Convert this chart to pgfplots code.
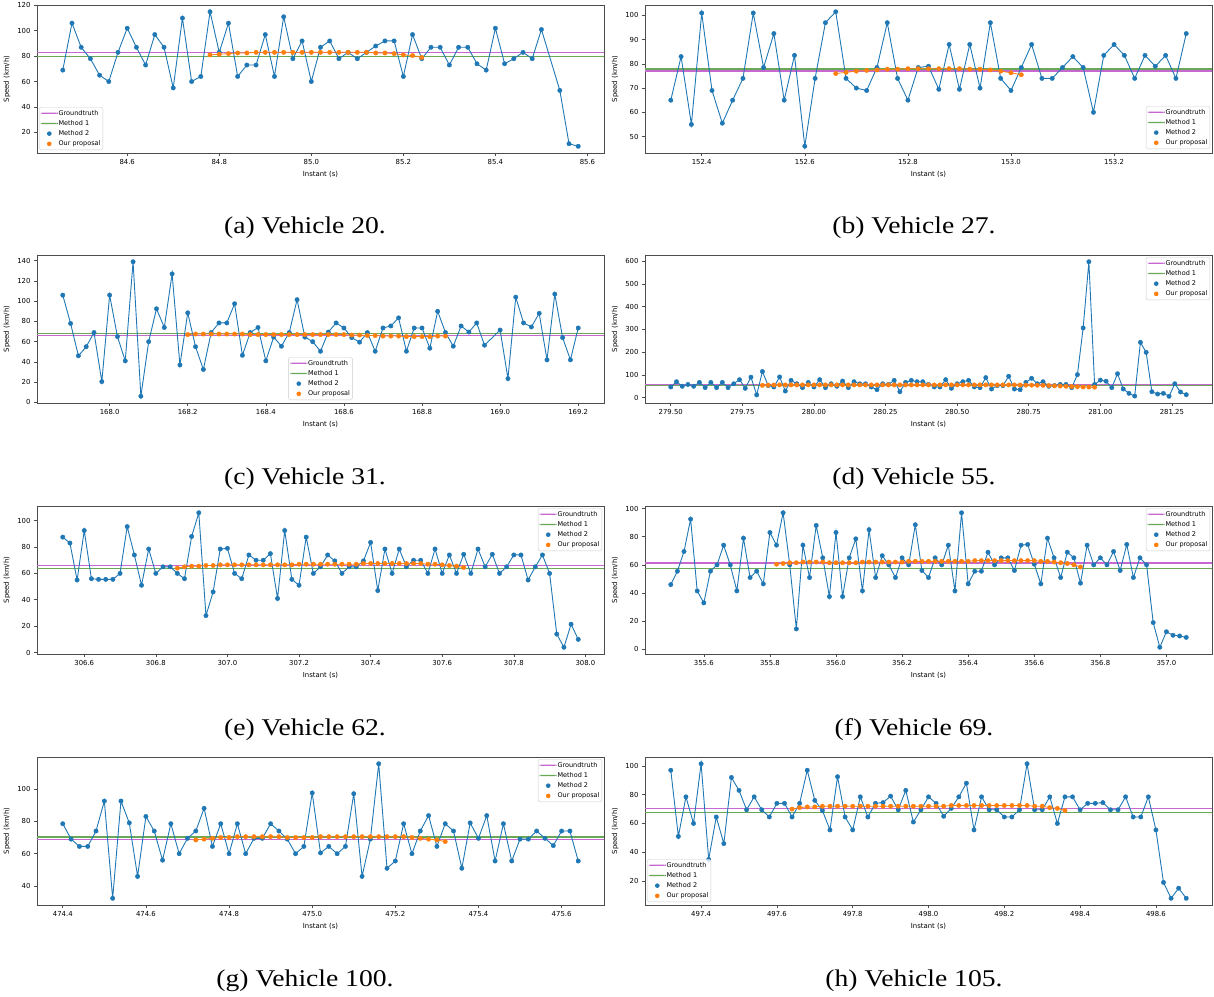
\documentclass[border=0pt]{standalone}
\usepackage{fontspec}
\setmainfont{Liberation Serif}
\newfontfamily\dv{DejaVu Sans}
\usepackage{graphicx}
\usepackage{pgfplots}
\usepackage{pgfplotstable}
\pgfplotsset{compat=1.18}
\definecolor{tabblue}{HTML}{1F77B4}
\definecolor{taborange}{HTML}{FF7F0E}
\definecolor{gtc}{RGB}{198,104,208}
\definecolor{m1c}{RGB}{104,168,86}
\newcommand\tlf{\dv\fontsize{6.9}{7.9}\selectfont}
\newcommand\lgf{\dv\fontsize{6.5}{7.5}\selectfont}
\pgfplotsset{
  veh/.style={
    scale only axis, width=567pt, height=148pt, anchor=north west,
    enlargelimits=false, scaled ticks=false,
    axis line style={black!70, line width=0.6pt},
    tick align=outside, tick pos=left, major tick length=3pt,
    tick style={black!70, line width=0.6pt},
    tick label style={font=\tlf},
    /pgf/number format/assume math mode=true,
    label style={font=\tlf},
    xlabel={Instant (s)}, ylabel={Speed (km/h)},
    legend cell align=left,
    legend style={font=\lgf, draw=black!20, rounded corners=1.5pt, fill=white, fill opacity=0.8, text opacity=1,
      inner xsep=1.6pt, inner ysep=2pt, row sep=2.2pt,
      nodes={inner sep=0.8pt, text height=5pt, text depth=1.4pt},
      /tikz/every even column/.append style={column sep=2.3pt}},
  },
  xp1/.style={xticklabel style={/pgf/number format/.cd, fixed, fixed zerofill, precision=1}},
  xp2/.style={xticklabel style={/pgf/number format/.cd, fixed, fixed zerofill, precision=2}},
  gtline/.style={color=gtc, line width=1.4pt, no marks,
    legend image code/.code={\fill[fill=gtc, fill opacity=1, draw=none] (0pt,-0.7pt) rectangle (17pt,0.7pt);}},
  m1line/.style={color=m1c, line width=1.2pt, no marks,
    legend image code/.code={\fill[fill=m1c, fill opacity=1, draw=none] (0pt,-0.6pt) rectangle (17pt,0.6pt);}},
  m2line/.style={color=tabblue, line width=0.9pt, no marks},
  m2mark/.style={only marks, mark=*, mark size=2.2pt, color=tabblue,
    legend image code/.code={\fill[fill=tabblue, fill opacity=1, draw=none] (8.5pt,0pt) circle (2.3pt);}},
  prline/.style={color=taborange, line width=0.8pt, no marks},
  prmark/.style={only marks, mark=*, mark size=2.2pt, color=taborange,
    legend image code/.code={\fill[fill=taborange, fill opacity=1, draw=none] (8.5pt,0pt) circle (2.3pt);}},
  lsw/.style={legend style={at={(0.0035,0.02)}, anchor=south west}},
  lse/.style={legend style={at={(0.9965,0.027)}, anchor=south east}},
  ls/.style={legend style={at={(0.5,0.02)}, anchor=south}},
  lne/.style={legend style={at={(0.9965,0.986)}, anchor=north east}},
}

% ---------- (a) Vehicle 20 ----------
\pgfplotstableread[row sep=\\]{x y\\
84.46 69\\84.48 106\\84.50 87\\84.52 78\\84.54 65\\84.56 60\\84.58 83\\84.60 102\\84.62 87\\84.64 73\\
84.66 97\\84.68 87\\84.70 55\\84.72 110\\84.74 60\\84.76 64\\84.78 115\\84.80 83\\84.82 106\\84.84 64\\
84.86 73\\84.88 73\\84.90 97\\84.92 64\\84.94 111\\84.96 78\\84.98 92\\85.00 60\\85.02 87\\85.04 92\\
85.06 78\\85.08 83\\85.10 78\\85.12 83\\85.14 88\\85.16 92\\85.18 92\\85.20 64\\85.22 97\\85.24 78\\
85.26 87\\85.28 87\\85.30 73\\85.32 87\\85.34 87\\85.36 74\\85.38 69\\85.40 102\\85.42 74\\85.44 78\\
85.46 83\\85.48 78\\85.50 101\\85.54 53\\85.56 11\\85.58 9\\}\aM
\pgfplotstableread[row sep=\\]{x y\\
84.78 81\\84.80 81.5\\84.82 82\\84.84 82.5\\84.86 82.5\\84.88 83\\84.90 83\\84.92 83\\84.94 83\\84.96 83\\
84.98 83\\85.00 83\\85.02 83\\85.04 83\\85.06 83\\85.08 83\\85.10 83\\85.12 83\\85.14 82.5\\85.16 82.5\\
85.18 82\\85.20 81\\85.22 80.5\\85.24 79\\}\aP

% ---------- (b) Vehicle 27 ----------
\pgfplotstableread[row sep=\\]{x y\\
152.34 65\\152.36 83\\152.38 55\\152.40 101\\152.42 69\\152.44 55.5\\152.46 65\\152.48 74\\152.50 101\\152.52 78.5\\
152.54 92.5\\152.56 65\\152.58 83.5\\152.60 46\\152.62 74\\152.64 97\\152.66 101.5\\152.68 74\\152.70 70\\152.72 69\\
152.74 78.5\\152.76 97\\152.78 74\\152.80 65\\152.82 78.5\\152.84 79\\152.86 69.5\\152.88 88\\152.90 69.5\\152.92 88\\
152.94 70\\152.96 97\\152.98 74\\153.00 69\\153.02 78.5\\153.04 88\\153.06 74\\153.08 74\\153.10 78.5\\153.12 83\\
153.14 78.5\\153.16 60\\153.18 83.5\\153.20 88\\153.22 83.5\\153.24 74\\153.26 83.5\\153.28 79\\153.30 83.5\\153.32 74\\
153.34 92.5\\}\bM
\pgfplotstableread[row sep=\\]{x y\\
152.66 76\\152.68 76.5\\152.70 77\\152.72 77.3\\152.74 77.5\\152.76 77.8\\152.78 77.8\\152.80 78\\152.82 78\\152.84 78\\
152.86 78\\152.88 78\\152.90 78\\152.92 77.8\\152.94 77.8\\152.96 77.5\\152.98 77\\153.00 76.3\\153.02 75.5\\}\bP

% ---------- (c) Vehicle 31 ----------
\pgfplotstableread[row sep=\\]{x y\\
167.88 106\\167.90 78\\167.92 46\\167.94 55\\167.96 69\\167.98 20.5\\168.00 106\\168.02 65\\168.04 41\\168.06 139\\
168.08 6\\168.10 60\\168.12 92.5\\168.14 74\\168.16 127\\168.18 37\\168.20 88.5\\168.22 55\\168.24 32.5\\168.26 69\\
168.28 78.5\\168.30 78.5\\168.32 97.5\\168.34 46.5\\168.36 69\\168.38 74\\168.40 41\\168.42 64.5\\168.44 55.5\\168.46 69\\
168.48 101.5\\168.50 64.5\\168.52 60\\168.54 50.5\\168.56 69.5\\168.58 78.5\\168.60 73.5\\168.62 64\\168.64 59.5\\168.66 69\\
168.68 50.5\\168.70 73.5\\168.72 75.5\\168.74 83.5\\168.76 50.5\\168.78 73.5\\168.80 73.5\\168.82 53.5\\168.84 90\\168.86 69\\
168.88 55.5\\168.90 75.5\\168.92 69.5\\168.94 78.5\\168.96 56.5\\169.00 71.5\\169.02 23.5\\169.04 104\\169.06 78.5\\169.08 74.5\\
169.10 88\\169.12 42\\169.14 107\\169.16 64\\169.18 42\\169.20 73.5\\}\cM
\pgfplotstableread[row sep=\\]{x y\\
168.20 67\\168.22 67.5\\168.24 67.5\\168.26 67.5\\168.28 67.5\\168.30 67.5\\168.32 67.5\\168.34 67.5\\168.36 67\\168.38 67\\
168.40 67\\168.42 67\\168.44 67\\168.46 67\\168.48 67\\168.50 67\\168.52 67\\168.54 67\\168.56 67\\168.58 67\\
168.60 67\\168.62 66.5\\168.64 66.5\\168.66 66\\168.68 66\\168.70 65.5\\168.72 65.5\\168.74 65.5\\168.76 65\\168.78 65\\
168.80 65\\168.82 65\\168.84 65.5\\168.86 65.5\\}\cP

% ---------- (d) Vehicle 55 ----------
\pgfplotstableread[row sep=\\]{x y\\
279.50 47\\279.52 70\\279.54 50\\279.56 58\\279.58 50\\279.60 67\\279.62 44\\279.64 67\\279.66 44\\279.68 67\\
279.70 44\\279.72 61\\279.74 79\\279.76 41\\279.78 90\\279.80 12\\279.82 115\\279.84 53\\279.86 47\\279.88 91\\
279.90 29\\279.92 76\\279.94 61\\279.96 44\\279.98 67\\280.00 47\\280.02 79\\280.04 44\\280.06 61\\280.08 50\\
280.10 73\\280.12 44\\280.14 70\\280.16 61\\280.18 61\\280.20 47\\280.22 35\\280.24 61\\280.26 58\\280.28 76\\
280.30 26\\280.32 67\\280.34 76\\280.36 70\\280.38 70\\280.40 58\\280.42 47\\280.44 47\\280.46 79\\280.48 41\\
280.50 61\\280.52 70\\280.54 76\\280.56 47\\280.58 44\\280.60 88\\280.62 38\\280.64 53\\280.66 53\\280.68 94\\
280.70 38\\280.72 35\\280.74 67\\280.76 85\\280.78 61\\280.80 70\\280.82 50\\280.84 53\\280.86 58\\280.88 58\\
280.90 44\\280.92 101\\280.94 306\\280.96 597\\280.98 58\\281.00 77\\281.02 72\\281.04 44\\281.06 105\\281.08 38\\
281.10 19\\281.12 7\\281.14 243\\281.16 199\\281.18 26\\281.20 16\\281.22 19\\281.24 6\\281.26 61\\281.28 25\\
281.30 13\\}\dM
\pgfplotstableread[row sep=\\]{x y\\
279.82 54\\279.84 55\\279.86 55.5\\279.88 56\\279.90 56\\279.92 56\\279.94 56\\279.96 56\\279.98 56\\280.00 56\\
280.02 56\\280.04 56\\280.06 56\\280.08 56\\280.10 56\\280.12 56\\280.14 56\\280.16 56\\280.18 56\\280.20 56\\
280.22 56\\280.24 56\\280.26 56\\280.28 56\\280.30 56\\280.32 56\\280.34 56\\280.36 56\\280.38 56\\280.40 56\\
280.42 56\\280.44 56\\280.46 56\\280.48 56\\280.50 56\\280.52 56\\280.54 56\\280.56 56\\280.58 56\\280.60 56\\
280.62 56\\280.64 56\\280.66 56\\280.68 56\\280.70 56\\280.72 55.5\\280.74 55\\280.76 55\\280.78 54.5\\280.80 54\\
280.82 53.5\\280.84 52\\280.86 51\\280.88 50\\280.90 49\\280.92 48\\280.94 47\\280.96 46.5\\280.98 46\\}\dP

% ---------- (e) Vehicle 62 ----------
\pgfplotstableread[row sep=\\]{x y\\
306.54 87.5\\306.56 83\\306.58 55\\306.60 92.5\\306.62 56\\306.64 55.5\\306.66 55.5\\306.68 55.5\\306.70 60\\306.72 95.5\\
306.74 74\\306.76 51\\306.78 78.5\\306.80 60\\306.82 65\\306.84 65\\306.86 60\\306.88 56\\306.90 88\\306.92 106\\
306.94 28\\306.96 46\\306.98 78.5\\307.00 79\\307.02 60\\307.04 56\\307.06 74\\307.08 70\\307.10 70\\307.12 75\\
307.14 41\\307.16 92.5\\307.18 55.5\\307.20 51\\307.22 87.5\\307.24 60\\307.26 65\\307.28 74\\307.30 69.5\\307.32 60\\
307.34 65\\307.36 65\\307.38 69.5\\307.40 83.5\\307.42 47\\307.44 78.5\\307.46 60\\307.48 78.5\\307.50 65\\307.52 70\\
307.54 70\\307.56 60\\307.58 78.5\\307.60 60\\307.62 74\\307.64 60\\307.66 74.5\\307.68 60\\307.70 78.5\\307.72 65\\
307.74 74.5\\307.76 60\\307.78 65\\307.80 74\\307.82 74\\307.84 55\\307.86 65\\307.88 74\\307.90 60\\307.92 14\\
307.94 4\\307.96 21.5\\307.98 10\\}\eM
\pgfplotstableread[row sep=\\]{x y\\
306.86 64\\306.88 65\\306.90 65.5\\306.92 65.5\\306.94 66\\306.96 66\\306.98 66.5\\307.00 66.5\\307.02 66.5\\307.04 66.5\\
307.06 66.5\\307.08 66.5\\307.10 66.5\\307.12 66.5\\307.14 66.5\\307.16 66.5\\307.18 66.5\\307.20 67\\307.22 67\\307.24 67\\
307.26 67\\307.28 67\\307.30 67\\307.32 67\\307.34 67\\307.36 67\\307.38 67.5\\307.40 67.5\\307.42 67.5\\307.44 67.5\\
307.46 67.5\\307.48 67.5\\307.50 67.5\\307.52 67.5\\307.54 67.5\\307.56 67\\307.58 67\\307.60 66.5\\307.62 66\\307.64 65.5\\
307.66 64.5\\}\eP

% ---------- (f) Vehicle 69 ----------
\pgfplotstableread[row sep=\\]{x y\\
355.50 46\\355.52 55.5\\355.54 69.5\\355.56 92.5\\355.58 41.5\\355.60 33\\355.62 55.5\\355.64 60\\355.66 74\\355.68 60\\
355.70 41.5\\355.72 79\\355.74 51\\355.76 55.5\\355.78 46.5\\355.80 83\\355.82 74\\355.84 97\\355.86 60\\355.88 14.5\\
355.90 74\\355.92 51\\355.94 88\\355.96 65\\355.98 37.5\\356.00 83\\356.02 37.5\\356.04 65\\356.06 78.5\\356.08 41.5\\
356.10 85\\356.12 51\\356.14 66.5\\356.16 60\\356.18 51\\356.20 65\\356.22 60\\356.24 88.5\\356.26 56\\356.28 51\\
356.30 65\\356.32 60\\356.34 74\\356.36 41.5\\356.38 97\\356.40 46.5\\356.42 55.5\\356.44 55.5\\356.46 69\\356.48 60\\
356.50 65\\356.52 65\\356.54 56\\356.56 74\\356.58 74.5\\356.60 60.5\\356.62 46.5\\356.64 79\\356.66 65\\356.68 51\\
356.70 69\\356.72 65\\356.74 47\\356.76 74\\356.78 60\\356.80 65\\356.82 60\\356.84 69.5\\356.86 56\\356.88 74.5\\
356.90 51\\356.92 65\\356.94 60\\356.96 19\\356.98 1.5\\357.00 12.5\\357.02 10\\357.04 9.5\\357.06 8.5\\}\fM
\pgfplotstableread[row sep=\\]{x y\\
355.82 60.5\\355.84 61\\355.86 61.5\\355.88 61.5\\355.90 62\\355.92 62\\355.94 62\\355.96 62\\355.98 61.5\\356.00 61.5\\
356.02 61.5\\356.04 61.5\\356.06 61.5\\356.08 62\\356.10 62\\356.12 62\\356.14 62\\356.16 62\\356.18 62\\356.20 62\\
356.22 62.5\\356.24 62.5\\356.26 62.5\\356.28 62.5\\356.30 62.5\\356.32 62.5\\356.34 62.5\\356.36 62.5\\356.38 62.5\\356.40 62.5\\
356.42 63\\356.44 63\\356.46 63\\356.48 63\\356.50 63\\356.52 63\\356.54 63\\356.56 63\\356.58 63\\356.60 63\\
356.62 62.5\\356.64 62.5\\356.66 62\\356.68 61.5\\356.70 61\\356.72 60\\356.74 58.5\\}\fP

% ---------- (g) Vehicle 100 ----------
\pgfplotstableread[row sep=\\]{x y\\
474.40 78.5\\474.42 69\\474.44 64.5\\474.46 64.5\\474.48 74\\474.50 92.5\\474.52 32.5\\474.54 92.5\\474.56 79\\474.58 46\\
474.60 83\\474.62 74\\474.64 56\\474.66 78.5\\474.68 60\\474.70 69.5\\474.72 74\\474.74 88\\474.76 64.5\\474.78 78.5\\
474.80 60\\474.82 78.5\\474.84 60\\474.86 69.5\\474.88 69.5\\474.90 78.5\\474.92 74\\474.94 69\\474.96 60\\474.98 64.5\\
475.00 97.5\\475.02 60.5\\475.04 64.5\\475.06 60\\475.08 64.5\\475.10 97\\475.12 46\\475.14 69\\475.16 115.5\\475.18 51\\
475.20 55.5\\475.22 78.5\\475.24 60\\475.26 74\\475.28 83.5\\475.30 64.5\\475.32 78.5\\475.34 74\\475.36 51\\475.38 79\\
475.40 69.5\\475.42 83.5\\475.44 55.5\\475.46 78.5\\475.48 55.5\\475.50 69\\475.52 69\\475.54 74\\475.56 69.5\\475.58 65\\
475.60 74\\475.62 74\\475.64 55.5\\}\gM
\pgfplotstableread[row sep=\\]{x y\\
474.72 68.5\\474.74 69\\474.76 69.5\\474.78 70\\474.80 70\\474.82 70.5\\474.84 70.5\\474.86 70.5\\474.88 70.5\\474.90 70.5\\
474.92 70.5\\474.94 70\\474.96 70\\474.98 70\\475.00 70\\475.02 70.5\\475.04 70.5\\475.06 70.5\\475.08 70.5\\475.10 70.5\\
475.12 70.5\\475.14 70.5\\475.16 70.5\\475.18 70.5\\475.20 70.5\\475.22 70.5\\475.24 70\\475.26 69.5\\475.28 69\\475.30 68.5\\
475.32 67.5\\}\gP

% ---------- (h) Vehicle 105 ----------
\pgfplotstableread[row sep=\\]{x y\\
497.32 97\\497.34 51\\497.36 78.5\\497.38 60\\497.40 101.5\\497.42 35\\497.44 64.5\\497.46 46\\497.48 92\\497.50 83\\
497.52 69.5\\497.54 78.5\\497.56 69.5\\497.58 64.5\\497.60 74\\497.62 74\\497.64 64.5\\497.66 74\\497.68 97\\497.70 76\\
497.72 69\\497.74 55.5\\497.76 92.5\\497.78 64.5\\497.80 55.5\\497.82 78.5\\497.84 64.5\\497.86 74\\497.88 74.5\\497.90 79\\
497.92 69.5\\497.94 83\\497.96 61\\497.98 69.5\\498.00 78.5\\498.02 74\\498.04 65\\498.06 70.5\\498.08 78.5\\498.10 88\\
498.12 55.5\\498.14 78.5\\498.16 69.5\\498.18 69.5\\498.20 64.5\\498.22 64.5\\498.24 69.5\\498.26 101.5\\498.28 69.5\\498.30 69.5\\
498.32 78.5\\498.34 60\\498.36 78.5\\498.38 78.5\\498.40 69.5\\498.42 74\\498.44 74\\498.46 74.5\\498.48 69.5\\498.50 69.5\\
498.52 78.5\\498.54 64.5\\498.56 64.5\\498.58 78.5\\498.60 55.5\\498.62 19\\498.64 8\\498.66 15\\498.68 8\\}\hM
\pgfplotstableread[row sep=\\]{x y\\
497.64 70\\497.66 71\\497.68 71.5\\497.70 71.5\\497.72 72\\497.74 72\\497.76 72\\497.78 72\\497.80 72\\497.82 72\\
497.84 72\\497.86 72\\497.88 72\\497.90 72\\497.92 72\\497.94 72\\497.96 72\\497.98 72\\498.00 72\\498.02 72\\
498.04 72\\498.06 72.5\\498.08 72.5\\498.10 72.5\\498.12 72.5\\498.14 72.5\\498.16 72.5\\498.18 72.5\\498.20 72.5\\498.22 72.5\\
498.24 72.5\\498.26 72.5\\498.28 72\\498.30 72\\498.32 71\\498.34 70.5\\498.36 69\\}\hP

\newcommand\capt[1]{\scalebox{1.15}[1]{\fontsize{24}{28}\selectfont #1}}

\begin{document}
\begin{tikzpicture}
\useasboundingbox (0pt,0pt) rectangle (1214pt,-996pt);

% (a)
\begin{axis}[veh, at={(37pt,-5pt)}, xmin=84.404, xmax=85.636, ymin=3.7, ymax=120.3,
  xtick={84.6,84.8,85.0,85.2,85.4,85.6}, ytick={20,40,60,80,100,120}, xp1, lsw]
\addplot[gtline] coordinates {(84.404,82.7) (85.636,82.7)}; \addlegendentry{Groundtruth}
\addplot[m1line] coordinates {(84.404,79.8) (85.636,79.8)}; \addlegendentry{Method 1}
\addplot[m2line, forget plot] table {\aM};
\addplot[m2mark] table {\aM}; \addlegendentry{Method 2}
\addplot[prline, forget plot] table {\aP};
\addplot[prmark] table {\aP}; \addlegendentry{Our proposal}
\end{axis}

% (b)
\begin{axis}[veh, at={(645pt,-5pt)}, xmin=152.29, xmax=153.39, ymin=43.2, ymax=104.3,
  xtick={152.4,152.6,152.8,153.0,153.2}, ytick={50,60,70,80,90,100}, xp1, lse]
\addplot[gtline] coordinates {(152.29,77.1) (153.39,77.1)}; \addlegendentry{Groundtruth}
\addplot[m1line] coordinates {(152.29,77.9) (153.39,77.9)}; \addlegendentry{Method 1}
\addplot[m2line, forget plot] table {\bM};
\addplot[m2mark] table {\bM}; \addlegendentry{Method 2}
\addplot[prline, forget plot] table {\bP};
\addplot[prmark] table {\bP}; \addlegendentry{Our proposal}
\end{axis}

% (c)
\begin{axis}[veh, at={(37pt,-255pt)}, xmin=167.814, xmax=169.266, ymin=-0.65, ymax=145.65,
  xtick={168.0,168.2,168.4,168.6,168.8,169.0,169.2}, ytick={0,20,40,60,80,100,120,140}, xp1, ls]
\addplot[gtline] coordinates {(167.814,66.2) (169.266,66.2)}; \addlegendentry{Groundtruth}
\addplot[m1line] coordinates {(167.814,68) (169.266,68)}; \addlegendentry{Method 1}
\addplot[m2line, forget plot] table {\cM};
\addplot[m2mark] table {\cM}; \addlegendentry{Method 2}
\addplot[prline, forget plot] table {\cP};
\addplot[prmark] table {\cP}; \addlegendentry{Our proposal}
\end{axis}

% (d)
\begin{axis}[veh, at={(645pt,-255pt)}, xmin=279.41, xmax=281.39, ymin=-23.5, ymax=626.5,
  xtick={279.5,279.75,280.0,280.25,280.5,280.75,281.0,281.25}, ytick={0,100,200,300,400,500,600}, xp2, lne]
\addplot[gtline] coordinates {(279.41,58) (281.39,58)}; \addlegendentry{Groundtruth}
\addplot[m1line] coordinates {(279.41,53) (281.39,53)}; \addlegendentry{Method 1}
\addplot[m2line, forget plot] table {\dM};
\addplot[m2mark] table {\dM}; \addlegendentry{Method 2}
\addplot[prline, forget plot] table {\dP};
\addplot[prmark] table {\dP}; \addlegendentry{Our proposal}
\end{axis}

% (e)
\begin{axis}[veh, at={(37pt,-506pt)}, xmin=306.468, xmax=308.052, ymin=-1.1, ymax=111.1,
  xtick={306.6,306.8,307.0,307.2,307.4,307.6,307.8,308.0}, ytick={0,20,40,60,80,100}, xp1, lne]
\addplot[gtline] coordinates {(306.468,66.2) (308.052,66.2)}; \addlegendentry{Groundtruth}
\addplot[m1line] coordinates {(306.468,63.9) (308.052,63.9)}; \addlegendentry{Method 1}
\addplot[m2line, forget plot] table {\eM};
\addplot[m2mark] table {\eM}; \addlegendentry{Method 2}
\addplot[prline, forget plot] table {\eP};
\addplot[prmark] table {\eP}; \addlegendentry{Our proposal}
\end{axis}

% (f)
\begin{axis}[veh, at={(645pt,-506pt)}, xmin=355.422, xmax=357.138, ymin=-3.3, ymax=101.8,
  xtick={355.6,355.8,356.0,356.2,356.4,356.6,356.8,357.0}, ytick={0,20,40,60,80,100}, xp1, lne]
\addplot[gtline] coordinates {(355.422,61.2) (357.138,61.2)}; \addlegendentry{Groundtruth}
\addplot[m1line] coordinates {(355.422,57.7) (357.138,57.7)}; \addlegendentry{Method 1}
\addplot[m2line, forget plot] table {\fM};
\addplot[m2mark] table {\fM}; \addlegendentry{Method 2}
\addplot[prline, forget plot] table {\fP};
\addplot[prmark] table {\fP}; \addlegendentry{Our proposal}
\end{axis}

% (g)
\begin{axis}[veh, at={(37pt,-757pt)}, xmin=474.338, xmax=475.702, ymin=28.35, ymax=119.65,
  xtick={474.4,474.6,474.8,475.0,475.2,475.4,475.6}, ytick={40,60,80,100}, xp1, lne]
\addplot[gtline] coordinates {(474.338,68.9) (475.702,68.9)}; \addlegendentry{Groundtruth}
\addplot[m1line] coordinates {(474.338,70.3) (475.702,70.3)}; \addlegendentry{Method 1}
\addplot[m2line, forget plot] table {\gM};
\addplot[m2mark] table {\gM}; \addlegendentry{Method 2}
\addplot[prline, forget plot] table {\gP};
\addplot[prmark] table {\gP}; \addlegendentry{Our proposal}
\end{axis}

% (h)
\begin{axis}[veh, at={(645pt,-757pt)}, xmin=497.252, xmax=498.748, ymin=3.3, ymax=106.2,
  xtick={497.4,497.6,497.8,498.0,498.2,498.4,498.6}, ytick={20,40,60,80,100}, xp1, lsw]
\addplot[gtline] coordinates {(497.252,70.6) (498.748,70.6)}; \addlegendentry{Groundtruth}
\addplot[m1line] coordinates {(497.252,67.8) (498.748,67.8)}; \addlegendentry{Method 1}
\addplot[m2line, forget plot] table {\hM};
\addplot[m2mark] table {\hM}; \addlegendentry{Method 2}
\addplot[prline, forget plot] table {\hP};
\addplot[prmark] table {\hP}; \addlegendentry{Our proposal}
\end{axis}

\node[anchor=base] at (305pt,-233pt) {\capt{(a) Vehicle 20.}};
\node[anchor=base] at (914pt,-233pt) {\capt{(b) Vehicle 27.}};
\node[anchor=base] at (305pt,-484pt) {\capt{(c) Vehicle 31.}};
\node[anchor=base] at (914pt,-484pt) {\capt{(d) Vehicle 55.}};
\node[anchor=base] at (305pt,-735pt) {\capt{(e) Vehicle 62.}};
\node[anchor=base] at (914pt,-735pt) {\capt{(f) Vehicle 69.}};
\node[anchor=base] at (305pt,-986pt) {\capt{(g) Vehicle 100.}};
\node[anchor=base] at (914pt,-986pt) {\capt{(h) Vehicle 105.}};
\end{tikzpicture}
\end{document}
